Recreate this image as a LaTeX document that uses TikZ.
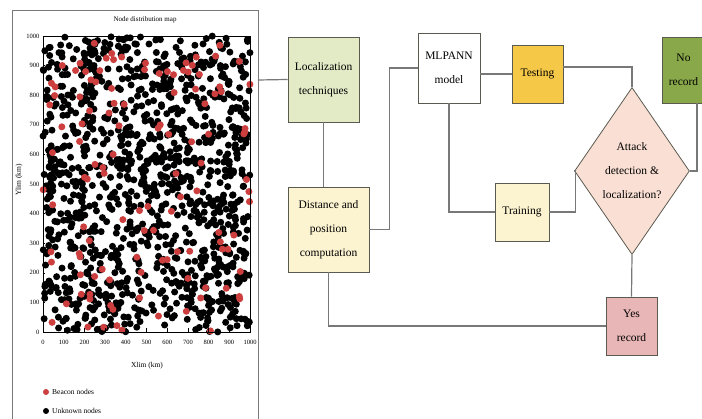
\documentclass[tikz,border=0pt]{standalone}
\usepackage{fontspec}
\setmainfont{Liberation Serif}
\usetikzlibrary{shapes.geometric}

\definecolor{locgreen}{RGB}{226,234,198}
\definecolor{distyellow}{RGB}{252,243,208}
\definecolor{testorange}{RGB}{246,200,72}
\definecolor{attackpink}{RGB}{250,224,212}
\definecolor{nogreen}{RGB}{137,168,74}
\definecolor{yespink}{RGB}{232,182,182}
\definecolor{linkgray}{RGB}{120,120,120}
\definecolor{boxedge}{RGB}{90,90,80}
\definecolor{beaconred}{RGB}{205,62,62}

\begin{document}
\begin{tikzpicture}[x=1pt,y=-1pt,
  flowbox/.style={draw=boxedge,line width=0.8pt,inner sep=0pt,align=center,font=\fontsize{11.5}{24}\selectfont},
  link/.style={draw=linkgray,line width=1.2pt},
  ticklabel/.style={inner sep=1pt,font=\fontsize{6.5}{7}\selectfont}]
\useasboundingbox (0,0) rectangle (702,419);

%Shape: Panel frame
\draw [linkgray,line width=0.8pt] (12,10) -- (258,10) -- (258,425) ;
\draw [linkgray,line width=0.8pt] (12,10) -- (12,425) ;
\coordinate (mapedge) at (258,80);

% Text Node
\node (maptitle) at (145,20) [font=\fontsize{7}{8}\selectfont] {Node distribution map};

%Shape: Scatter of nodes
\begin{scope}[shift={(43,332)},x=0.207pt,y=0.296pt]
\pgfmathsetseed{4217}
\foreach \i in {1,...,1150}
  \fill [black] ({rnd*1000},{rnd*1000}) circle [radius=3.5pt];
\foreach \i in {1,...,120}
  \fill [beaconred] ({rnd*1000},{rnd*1000}) circle [radius=3.5pt];
\draw [line width=0.8pt] (0,0) rectangle (1000,1000);
\foreach \v in {0,100,...,1000} {
  \draw (\v,0) -- (\v,12);
  \draw (0,\v) -- (8,\v);
  \node (xt\v) [ticklabel,anchor=north] at (\v,-25) {\v};
  \node (yt\v) [ticklabel,anchor=east] at (-12,\v) {\v};
}
\end{scope}

% Text Node
\node (xlabel) at (147,366) [font=\fontsize{7.5}{8}\selectfont] {Xlim (km)};
% Text Node
\node (ylabel) at (19,180) [rotate=90,font=\fontsize{7.5}{8}\selectfont] {Ylim (km)};

%Shape: Legend
\fill [beaconred] (46,392) circle [radius=3pt];
\node (beacon) at (52,392) [anchor=west,inner sep=0pt,font=\fontsize{7.5}{8}\selectfont] {Beacon nodes};
\fill [black] (46,411) circle [radius=3pt];
\node (unknown) at (52,411) [anchor=west,inner sep=0pt,font=\fontsize{7.5}{8}\selectfont] {Unknown nodes};

% Flow boxes
\node (loc) [flowbox,fill=locgreen,minimum width=71pt,minimum height=85pt] at (323.5,79.5) {Localization\\techniques};
\node (dist) [flowbox,fill=distyellow,minimum width=81pt,minimum height=85pt] at (328.5,229.5) {Distance and\\position\\computation};
\node (mlp) [flowbox,fill=white,minimum width=62pt,minimum height=70pt] at (449,68) {MLPANN\\model};
\node (test) [flowbox,fill=testorange,minimum width=51pt,minimum height=58pt] at (537.5,74) {Testing};
\node (train) [flowbox,fill=distyellow,minimum width=54pt,minimum height=58pt] at (522,212) {Training};
\node (attack) [flowbox,diamond,fill=attackpink,minimum width=96pt,minimum height=167pt] at (632,171) {Attack\\detection \&\\localization?};
\node (nor) [flowbox,fill=nogreen,minimum width=43pt,minimum height=66pt] at (683.5,70) {No\\record};
\node (yes) [flowbox,fill=yespink,minimum width=51pt,minimum height=58pt] at (631.5,326) {Yes\\record};

% Connectors
\draw [link] (mapedge) -- (loc.west) ;
\draw [link] (loc.south) -- (loc.south |- dist.north) ;
\draw [link] (dist.east) -- ++(20,0) |- (mlp.west) ;
\draw [link] (test.west -| mlp.east) -- (test.west) ;
\draw [link] ([yshift=7pt]test.east) -| (attack.north) ;
\draw [link] (mlp.south) |- (train.west) ;
\draw [link] (train.east) -- ++(26,0) |- (attack.west) ;
\draw [link] (attack.east) -| ([xshift=13.5pt]nor.south) ;
\draw [link] (attack.south) -- (yes.north) ;
\draw [link] (dist.south) |- (yes.west) ;

\end{tikzpicture}
\end{document}
